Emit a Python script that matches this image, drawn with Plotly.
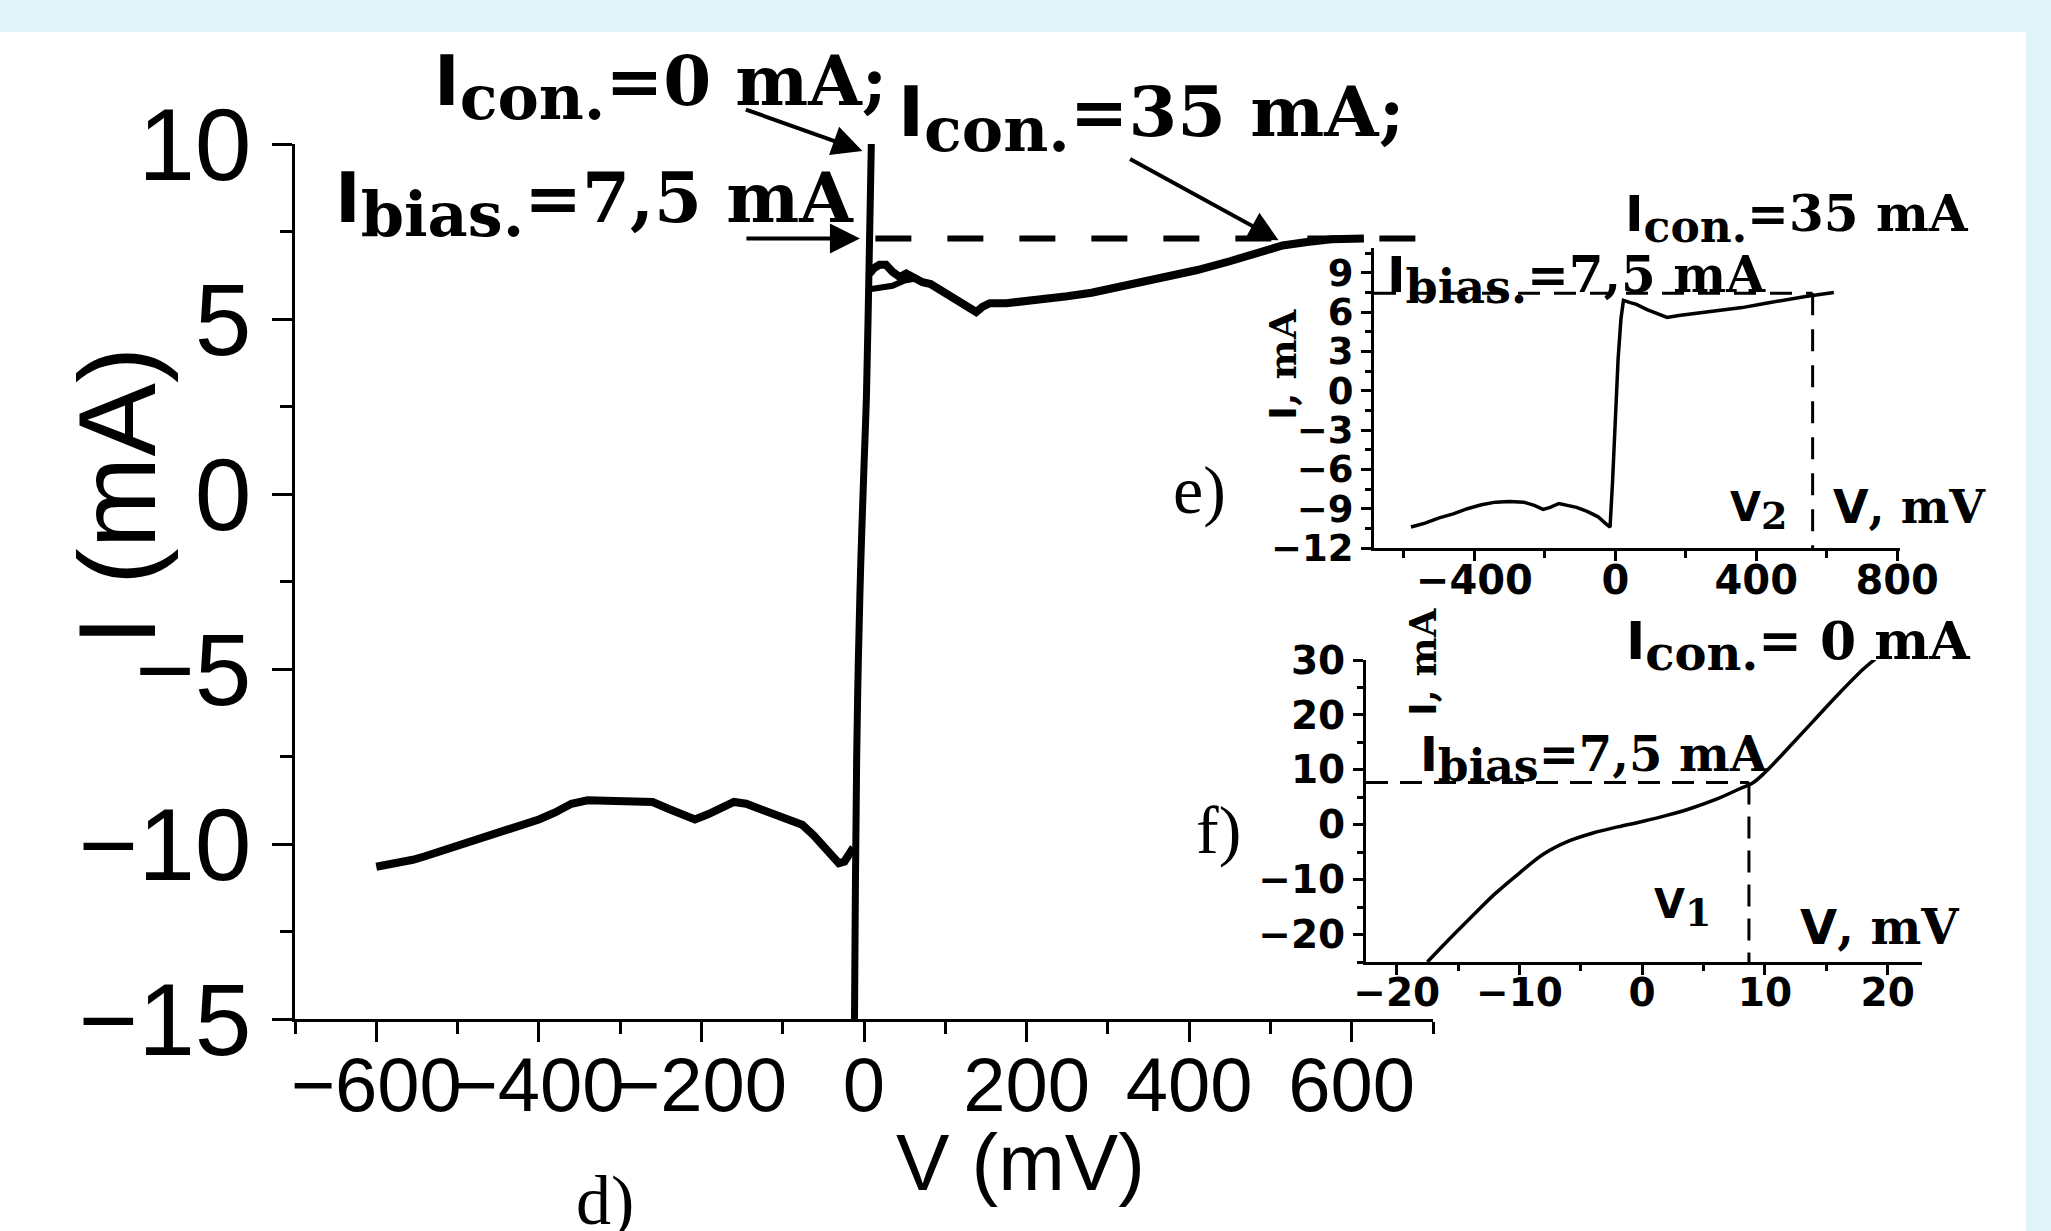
import plotly.graph_objects as go

W, H = 2051, 1231

# ---------------- data: main panel d) ----------------
d_low_v = [-600, -585, -570, -555, -540, -520, -500, -480, -460, -440, -420, -400, -380, -360, -340,
           -320, -300, -280, -260, -240, -222, -208, -192, -176, -160, -145, -128, -110, -92, -76,
           -62, -50, -40, -31, -24, -18, -13]
d_low_i = [-10.65, -10.6, -10.5, -10.45, -10.35, -10.2, -10.1, -9.95, -9.8, -9.6, -9.45, -9.3, -9.1, -8.85, -8.75,
           -8.75, -8.75, -8.75, -8.8, -9.0, -9.2, -9.3, -9.15, -8.95, -8.8, -8.85, -9.0, -9.15, -9.3, -9.45,
           -9.75, -10.05, -10.35, -10.55, -10.5, -10.3, -10.1]
d_steep_v = [-12.5, -11.7, -10.5, -9, -7, -4, 0, 3, 5, 7, 9, 10]
d_steep_i = [-17, -15, -11, -7.5, -4.8, -2.0, 0.8, 2.8, 5, 7.5, 10, 12]
d_up_v = [7, 12, 19, 27, 35, 44, 52, 62, 72, 82, 95, 108, 122, 138, 146, 155, 175, 200, 225, 250,
          280, 310, 340, 372, 410, 450, 485, 515, 545, 575, 615]
d_up_i = [6.3, 6.45, 6.55, 6.55, 6.35, 6.2, 6.3, 6.15, 6.05, 6.0, 5.8, 5.6, 5.4, 5.2, 5.35, 5.45, 5.45, 5.5, 5.55, 5.65,
          5.75, 5.9, 6.05, 6.2, 6.4, 6.65, 6.9, 7.1, 7.2, 7.28, 7.3]
d_loop_v = [7, 20, 35, 50, 62]
d_loop_i = [5.85, 5.9, 5.95, 6.1, 6.15]
d_bias_v = [14, 700]
d_bias_i = [7.3, 7.3]
d_xticks = [-600, -400, -200, 0, 200, 400, 600]
d_yticks = [-15, -10, -5, 0, 5, 10]

# ---------------- data: inset e) ----------------
e_v = [-580, -540, -500, -460, -420, -380, -340, -300, -260, -230, -205, -185, -160, -140, -110, -80, -50,
       -25, -15, -8, 0, 8, 16, 23, 40, 60, 90, 120, 147, 180, 240, 300, 360, 420, 480, 540, 580, 620]
e_i = [-10.4, -10.1, -9.7, -9.4, -9.0, -8.7, -8.5, -8.45, -8.5, -8.75, -9.05, -8.9, -8.6, -8.7, -8.9, -9.2, -9.6,
       -10.2, -10.4, -7.0, -2.0, 2.5, 5.5, 6.9, 6.75, 6.6, 6.2, 5.85, 5.6, 5.75, 5.95, 6.1, 6.35, 6.65, 6.95, 7.2, 7.35, 7.5]
e_bias = 7.45
e_v2 = 560

# ---------------- data: inset f) ----------------
f_v = [-17.5, -16, -14, -12, -10, -8, -6, -4, -2, 0, 2, 4, 6, 8, 9, 10, 12, 14, 16, 18, 19]
f_i = [-25, -21.5, -17, -12.6, -8.8, -5.3, -3.0, -1.5, -0.4, 0.6, 1.7, 3.0, 4.6, 6.6, 7.6, 9.5, 14.2, 19, 23.8, 28.3, 30.2]
f_bias = 7.7
f_v1 = 8.7


def px(x):
    return x / W


def py(y):
    return 1 - y / H


fig = go.Figure()
blk = "black"

# main
fig.add_trace(go.Scatter(x=d_low_v, y=d_low_i, mode="lines", line=dict(color=blk, width=8), xaxis="x", yaxis="y"))
fig.add_trace(go.Scatter(x=d_steep_v, y=d_steep_i, mode="lines", line=dict(color=blk, width=7, shape="spline"), xaxis="x", yaxis="y"))
fig.add_trace(go.Scatter(x=d_up_v, y=d_up_i, mode="lines", line=dict(color=blk, width=8), xaxis="x", yaxis="y"))
fig.add_trace(go.Scatter(x=d_loop_v, y=d_loop_i, mode="lines", line=dict(color=blk, width=6), xaxis="x", yaxis="y"))
fig.add_trace(go.Scatter(x=d_bias_v, y=d_bias_i, mode="lines", line=dict(color=blk, width=6, dash="36px,36px"), xaxis="x", yaxis="y"))

# inset e
fig.add_trace(go.Scatter(x=e_v, y=e_i, mode="lines", line=dict(color=blk, width=3.5), xaxis="x2", yaxis="y2"))
fig.add_trace(go.Scatter(x=[-685, e_v2], y=[e_bias, e_bias], mode="lines", line=dict(color=blk, width=3, dash="22px,14px"), xaxis="x2", yaxis="y2"))
fig.add_trace(go.Scatter(x=[e_v2, e_v2], y=[e_bias, -12], mode="lines", line=dict(color=blk, width=3, dash="22px,14px"), xaxis="x2", yaxis="y2"))

# inset f
fig.add_trace(go.Scatter(x=f_v, y=f_i, mode="lines", line=dict(color=blk, width=3.5, shape="spline"), xaxis="x3", yaxis="y3"))
fig.add_trace(go.Scatter(x=[-22.5, f_v1], y=[f_bias, f_bias], mode="lines", line=dict(color=blk, width=3, dash="22px,12px"), xaxis="x3", yaxis="y3"))
fig.add_trace(go.Scatter(x=[f_v1, f_v1], y=[f_bias, -25], mode="lines", line=dict(color=blk, width=3, dash="22px,12px"), xaxis="x3", yaxis="y3"))

ax_common = dict(showline=True, linecolor=blk, linewidth=3, ticks="outside", tickcolor=blk, automargin=False,
                 showgrid=False, zeroline=False, mirror=False, tickangle=0, fixedrange=True)

main_tick_font = dict(family="Liberation Sans, Arial, sans-serif", color=blk)
inset_tick_font = dict(family="DejaVu Sans, sans-serif", color=blk, weight="bold")

fig.update_layout(
    template="none",
    width=W, height=H, autosize=False,
    margin=dict(l=0, r=0, t=0, b=0, pad=0, autoexpand=False),
    paper_bgcolor="white", plot_bgcolor="rgba(0,0,0,0)",
    showlegend=False,
    xaxis=dict(**ax_common, domain=[px(295), px(1433)], range=[-700, 700], anchor="y",
               tickvals=d_xticks, ticklen=20, tickwidth=3, ticklabelstandoff=-22,
               tickfont=dict(**main_tick_font, size=76),
               minor=dict(dtick=100, tick0=0, ticklen=12, tickwidth=3, ticks="outside", tickcolor=blk)),
    yaxis=dict(**ax_common, domain=[py(1019), py(144)], range=[-15, 10], anchor="x",
               tickvals=d_yticks, ticklen=20, tickwidth=3,
               tickfont=dict(**main_tick_font, size=102),
               minor=dict(dtick=2.5, tick0=0, ticklen=12, tickwidth=3, ticks="outside", tickcolor=blk)),
    xaxis2=dict(**ax_common, domain=[px(1374), px(1900)], range=[-685, 808], anchor="y2",
                dtick=400, tick0=0, ticklen=10, tickwidth=3, ticklabelstandoff=-15,
                tickfont=dict(**inset_tick_font, size=40),
                minor=dict(dtick=200, tick0=0, ticklen=7, tickwidth=3, ticks="outside", tickcolor=blk)),
    yaxis2=dict(**ax_common, domain=[py(548), py(248)], range=[-12, 10.9], anchor="x2",
                dtick=3, tick0=0, ticklen=10, tickwidth=3,
                tickfont=dict(**inset_tick_font, size=37),
                minor=dict(dtick=1.5, tick0=0, ticklen=6, tickwidth=3, ticks="outside", tickcolor=blk)),
    xaxis3=dict(**ax_common, domain=[px(1366), px(1922)], range=[-22.5, 22.8], anchor="y3",
                dtick=10, tick0=0, ticklen=10, tickwidth=3, ticklabelstandoff=-16,
                tickfont=dict(**inset_tick_font, size=39),
                minor=dict(dtick=5, tick0=0, ticklen=6, tickwidth=3, ticks="outside", tickcolor=blk)),
    yaxis3=dict(**ax_common, domain=[py(962), py(660)], range=[-25, 30], anchor="x3",
                dtick=10, tick0=0, ticklen=10, tickwidth=3,
                tickfont=dict(**inset_tick_font, size=39),
                minor=dict(dtick=5, tick0=0, ticklen=6, tickwidth=3, ticks="outside", tickcolor=blk)),
)

# light-blue page border bands
band = "#e0f4f9"
fig.add_shape(type="rect", xref="paper", yref="paper", x0=0, x1=1, y0=py(32), y1=1,
              fillcolor=band, line=dict(width=0), layer="below")
fig.add_shape(type="rect", xref="paper", yref="paper", x0=px(2026), x1=1, y0=0, y1=1,
              fillcolor=band, line=dict(width=0), layer="below")

SERIF_B = "DejaVu Serif, serif"
SANS = "font-family:DejaVu Sans"


def rich(head, sub, rest, subsize):
    return (f"<span style='{SANS}'>{head}</span><sub><span style='font-size:{subsize}px'>{sub}</span></sub>{rest}")


def text_ann(text, x_px, top_px, size, family=SERIF_B, weight="bold", xanchor="left", yanchor="top", angle=0):
    fig.add_annotation(text=text, xref="paper", yref="paper", x=px(x_px), y=py(top_px),
                       xanchor=xanchor, yanchor=yanchor, showarrow=False, textangle=angle,
                       font=dict(family=family, size=size, color=blk, weight=weight))


# main panel labels
text_ann(rich("I", "con.", "=0 mA;", 62), 432, 38, 69)
text_ann(rich("I", "bias.", "=7,5 mA", 62), 333, 155, 69)
text_ann(rich("I", "con.", "=35 mA;", 62), 896, 68, 70)

# inset e labels
text_ann(rich("I", "con.", "=35 mA", 44), 1623, 182, 50)
text_ann(rich("I", "bias.", "=7,5 mA", 46), 1385, 243, 50)
text_ann(f"<span style='{SANS}'>V</span><sub><span style='font-size:38px'>2</span></sub>", 1728, 482, 40)
text_ann(f"<span style='{SANS}'>V</span>, mV", 1831, 478, 46)
text_ann(f"<span style='{SANS}'>I</span>, mA", 1283, 365, 38, xanchor="center", yanchor="middle", angle=-90)

# inset f labels
text_ann(rich("I", "con.", "= 0 mA", 48), 1624, 608, 52)
text_ann(rich("I", "bias", "=7,5 mA", 44), 1418, 724, 48)
text_ann(f"<span style='{SANS}'>V</span><sub><span style='font-size:38px'>1</span></sub>", 1652, 879, 40)
text_ann(f"<span style='{SANS}'>V</span>, mV", 1798, 897, 48)
text_ann(f"<span style='{SANS}'>I</span>, mA", 1423, 662, 37, xanchor="center", yanchor="middle", angle=-90)

# panel letters
TIMES = "Liberation Serif, Times New Roman, serif"
text_ann("d)", 605, 1200, 70, family=TIMES, weight="normal", xanchor="center", yanchor="middle")
text_ann("e)", 1199, 490, 68, family=TIMES, weight="normal", xanchor="center", yanchor="middle")
text_ann("f)", 1218, 830, 68, family=TIMES, weight="normal", xanchor="center", yanchor="middle")

# main axis titles
ARIAL = "Liberation Sans, Arial, sans-serif"
text_ann("I (mA)", 116, 497, 110, family=ARIAL, weight="normal", xanchor="center", yanchor="middle", angle=-90)
text_ann("V (mV)", 1020, 1162, 80, family=ARIAL, weight="normal", xanchor="center", yanchor="middle")

# arrows (heads anchored on data coordinates of the main panel)
arrows = [(-2, 9.8, -118, -42), (-5, 7.3, -115, 0), (510, 7.25, -150, -82)]
for hx, hy, tx, ty in arrows:
    fig.add_annotation(x=hx, y=hy, xref="x", yref="y", ax=tx, ay=ty, axref="pixel", ayref="pixel",
                       text="", showarrow=True, arrowhead=2, arrowsize=1.5, arrowwidth=4, arrowcolor=blk)

fig.write_html("out.html", config={"displayModeBar": False, "responsive": False},
               post_script="document.body.style.margin='0';document.body.style.overflow='hidden';")
